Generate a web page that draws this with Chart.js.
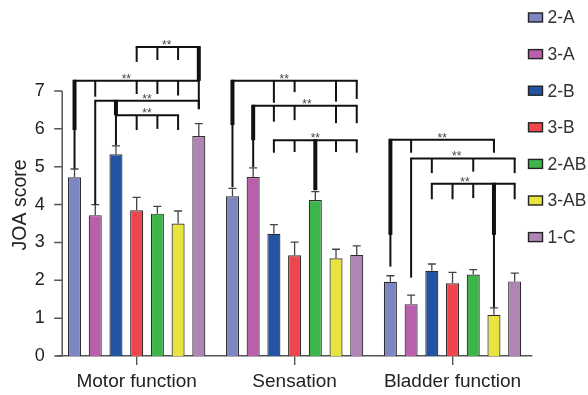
<!DOCTYPE html>
<html>
<head>
<meta charset="utf-8">
<script src="https://cdn.jsdelivr.net/npm/chart.js@4.4.0/dist/chart.umd.min.js"></script>
<style>
  html, body { margin: 0; padding: 0; background: #fff; }
  #wrap { width: 588px; height: 395px; }
</style>
</head>
<body>
<div id="wrap"><canvas id="grafico"></canvas></div>
<script>
const categorias = ["Motor function", "Sensation", "Bladder function"];
const grupos = ["2-A", "3-A", "2-B", "3-B", "2-AB", "3-AB", "1-C"];
const cores = ["#7b86c3", "#b95fab", "#2354a3", "#ee464c", "#3db54a", "#e8e33e", "#b084b5"];
const tituloY = "JOA score";

// média de cada grupo: motor, sensação, bexiga
const media2A = [4.72, 4.22, 1.96];
const media3A = [3.72, 4.73, 1.37];
const media2B = [5.33, 3.23, 2.25];
const media3B = [3.85, 2.66, 1.92];
const media2AB = [3.76, 4.12, 2.15];
const media3AB = [3.50, 2.58, 1.09];
const media1C = [5.81, 2.67, 1.97];

// barra de erro (só para cima)
const erro2A = [0.22, 0.21, 0.16];
const erro3A = [0.28, 0.24, 0.24];
const erro2B = [0.22, 0.24, 0.18];
const erro3B = [0.34, 0.35, 0.29];
const erro2AB = [0.19, 0.22, 0.13];
const erro3AB = [0.33, 0.24, 0.18];
const erro1C = [0.33, 0.24, 0.22];

const medias = [media2A, media3A, media2B, media3B, media2AB, media3AB, media1C];
const erros = [erro2A, erro3A, erro2B, erro3B, erro2AB, erro3AB, erro1C];

// chaves de significância: categoria, altura da linha, posição do "**",
// ramos [grupo, até onde desce, até onde é grosso]
const chaves = [
  { cat: 0, y: 8.16, star: 4.45, ramos: [[3, 7.77], [4, 7.82], [5, 7.82], [6, 7.27, 7.27]] },
  { cat: 0, y: 7.27, star: 2.5, ramos: [[0, 4.95, 5.97], [1, 6.85], [3, 6.92], [4, 6.92], [5, 6.88], [6, 6.52]] },
  { cat: 0, y: 6.74, star: 3.5, ramos: [[1, 3.99], [2, 6.36, 6.36], [6, 6.52]] },
  { cat: 0, y: 6.36, star: 3.5, ramos: [[2, 5.57], [3, 5.97], [4, 6.0], [5, 5.97]] },
  { cat: 1, y: 7.27, star: 2.5, ramos: [[0, 4.46, 6.10], [2, 6.69], [3, 6.97], [5, 6.72], [6, 6.79]] },
  { cat: 1, y: 6.61, star: 3.6, ramos: [[1, 4.99, 5.70], [2, 6.19], [3, 6.23], [5, 6.15], [6, 6.15]] },
  { cat: 1, y: 5.70, star: 4, ramos: [[2, 5.37], [3, 5.39], [4, 4.38, 4.38], [5, 5.39], [6, 5.37]] },
  { cat: 2, y: 5.71, star: 2.5, ramos: [[0, 2.36, 3.20], [1, 5.37], [5, 5.37]] },
  { cat: 2, y: 5.22, star: 3.2, ramos: [[1, 2.07], [2, 4.83], [4, 4.87], [6, 4.83]] },
  { cat: 2, y: 4.55, star: 3.6, ramos: [[2, 4.14], [3, 4.14], [4, 4.17], [5, 1.28, 3.20], [6, 4.14]] }
];

const fonte = '"Liberation Sans", Arial, Helvetica, sans-serif';

function xDaBarra(chart, cat, idx) {
  const a = Math.floor(idx);
  const b = Math.ceil(idx);
  const xa = chart.getDatasetMeta(a).data[cat].x;
  const xb = chart.getDatasetMeta(b).data[cat].x;
  return xa + (xb - xa) * (idx - a);
}

const extras = {
  id: "extras",
  afterDatasetsDraw(chart) {
    const ctx = chart.ctx;
    const ys = chart.scales.y;
    const area = chart.chartArea;
    ctx.save();

    // eixo y deslocado um pouco para dentro, como no original
    const eixoX = area.left + 4.5;
    ctx.strokeStyle = "#555";
    ctx.lineWidth = 1.5;
    ctx.beginPath();
    ctx.moveTo(eixoX, ys.getPixelForValue(0));
    ctx.lineTo(eixoX, ys.getPixelForValue(7));
    ys.ticks.forEach(t => {
      const py = ys.getPixelForValue(t.value);
      ctx.moveTo(eixoX - 8, py);
      ctx.lineTo(eixoX, py);
    });
    ctx.stroke();

    // título do eixo y, um pouco acima do centro
    ctx.save();
    ctx.translate(21, area.top + (area.bottom - area.top) * 0.43);
    ctx.rotate(-Math.PI / 2);
    ctx.font = "19.5px " + fonte;
    ctx.fillStyle = "#222";
    ctx.textAlign = "center";
    ctx.textBaseline = "middle";
    ctx.fillText(tituloY, 0, 0);
    ctx.restore();

    // barras de erro
    ctx.strokeStyle = "#444";
    ctx.lineWidth = 1.3;
    chart.data.datasets.forEach((ds, i) => {
      chart.getDatasetMeta(i).data.forEach((bar, j) => {
        const topo = ys.getPixelForValue(ds.data[j] + ds.erro[j]);
        ctx.beginPath();
        ctx.moveTo(bar.x, bar.y);
        ctx.lineTo(bar.x, topo);
        ctx.moveTo(bar.x - 4, topo);
        ctx.lineTo(bar.x + 4, topo);
        ctx.stroke();
      });
    });

    // chaves de significância
    ctx.strokeStyle = "#111";
    ctx.fillStyle = "#444";
    ctx.lineCap = "butt";
    ctx.font = "12px " + fonte;
    ctx.textAlign = "center";
    ctx.textBaseline = "alphabetic";
    chaves.forEach(c => {
      const py = ys.getPixelForValue(c.y);
      const xs = c.ramos.map(r => xDaBarra(chart, c.cat, r[0]));
      ctx.lineWidth = 2;
      ctx.beginPath();
      ctx.moveTo(Math.min(...xs) - 1, py);
      ctx.lineTo(Math.max(...xs) + 1, py);
      ctx.stroke();
      c.ramos.forEach((r, k) => {
        const fim = ys.getPixelForValue(r[1]);
        if (r[2] !== undefined) {
          const grosso = ys.getPixelForValue(r[2]);
          ctx.lineWidth = 4;
          ctx.beginPath();
          ctx.moveTo(xs[k], py - 1);
          ctx.lineTo(xs[k], grosso);
          ctx.stroke();
        }
        ctx.lineWidth = 2;
        ctx.beginPath();
        ctx.moveTo(xs[k], py);
        ctx.lineTo(xs[k], fim);
        ctx.stroke();
      });
      ctx.fillText("**", xDaBarra(chart, c.cat, c.star), py + 2);
    });

    ctx.restore();
  },
  afterDraw(chart) {
    // legenda à direita
    const ctx = chart.ctx;
    const lx = chart.chartArea.right - 3;
    ctx.save();
    ctx.font = "17.5px " + fonte;
    ctx.textBaseline = "middle";
    ctx.textAlign = "left";
    chart.data.datasets.forEach((ds, i) => {
      const cy = 17.5 + i * 36.6;
      ctx.fillStyle = ds.backgroundColor;
      ctx.fillRect(lx, cy - 4.5, 14, 9);
      ctx.strokeStyle = "#222";
      ctx.lineWidth = 1.4;
      ctx.strokeRect(lx, cy - 4.5, 14, 9);
      ctx.fillStyle = "#333";
      ctx.fillText(ds.label, lx + 19, cy + 1);
    });
    ctx.restore();
  }
};

const datasets = grupos.map((g, i) => ({
  label: g,
  data: medias[i],
  erro: erros[i],
  backgroundColor: cores[i],
  borderColor: "#2e2e2e",
  borderWidth: 1.2,
  barPercentage: 0.63,
  categoryPercentage: 0.918
}));

new Chart(document.getElementById("grafico"), {
  type: "bar",
  data: { labels: categorias, datasets },
  options: {
    responsive: true,
    maintainAspectRatio: false,
    animation: false,
    layout: { padding: { top: 91, right: 56.5, left: 0, bottom: 0 } },
    plugins: { legend: { display: false }, tooltip: { enabled: false } },
    scales: {
      x: {
        grid: { drawOnChartArea: false, offset: false, tickLength: 9, color: "#555", lineWidth: 1.4 },
        border: { color: "#555", width: 1.5 },
        ticks: { font: { size: 19, family: fonte }, color: "#222", padding: 5, maxRotation: 0 },
        afterFit: s => { s.height = 39; }
      },
      y: {
        min: 0,
        max: 7,
        grid: { display: false, drawTicks: false },
        border: { display: false },
        ticks: { stepSize: 1, font: { size: 18, family: fonte }, color: "#222", padding: 13 },
        afterFit: s => { s.width = 57.7; }
      }
    }
  },
  plugins: [extras]
});
</script>
</body>
</html>
